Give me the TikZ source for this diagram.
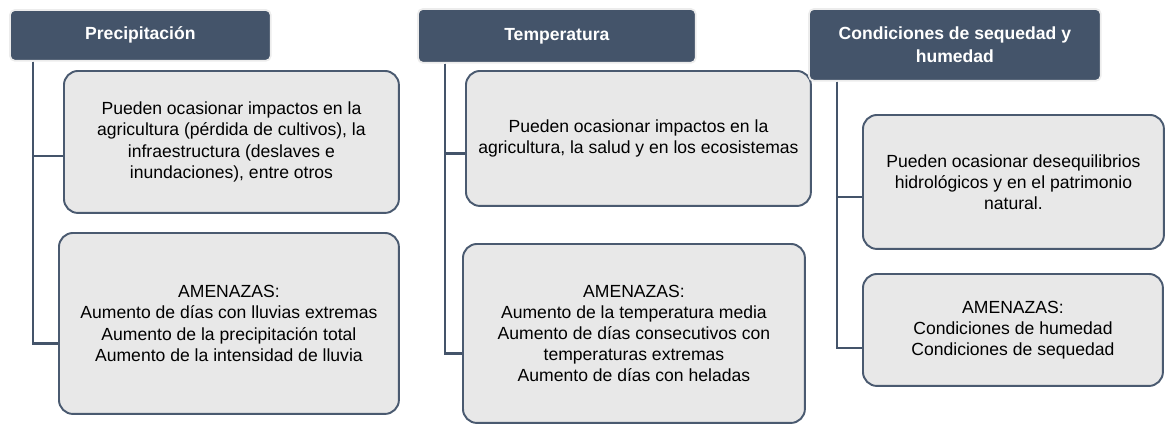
\documentclass[tikz,border=0pt]{standalone}
\usepackage{fontspec}
\setmainfont{Liberation Sans}
\usetikzlibrary{positioning, calc}
\definecolor{hcolor}{HTML}{44546A}
\definecolor{bcolor}{HTML}{E8E8E8}
\definecolor{lcolor}{HTML}{4A5A70}

\begin{document}
\begin{tikzpicture}[
    x=0.02cm, y=0.02cm,
    head/.style={rectangle, draw=gray!15, line width=1pt, fill=hcolor, rounded corners=3pt, anchor=north west, align=center, text=white, font=\fontsize{10}{13}\selectfont\bfseries, inner sep=0pt},
    item/.style={rectangle, draw=lcolor, line width=1.1pt, fill=bcolor, rounded corners=8pt, anchor=north west, align=center, font=\fontsize{10}{12}\selectfont, inner sep=0pt},
    link/.style={draw=hcolor, line width=1.4pt},
  ]
    \useasboundingbox (0,0) rectangle (1165,-423);

    % Precipitacion
    \node[head, minimum width=5.22cm, minimum height=1.02cm] (h1) at (9,-9) {Precipitación};
    \node[item, minimum width=6.70cm, minimum height=2.84cm] (b11) at (63,-70) {Pueden ocasionar impactos en la\\agricultura (pérdida de cultivos), la\\infraestructura (deslaves e\\inundaciones), entre otros};
    \node[item, minimum width=6.80cm, minimum height=3.62cm] (b12) at (58,-232) {AMENAZAS:\\Aumento de días con lluvias extremas\\Aumento de la precipitación total\\Aumento de la intensidad de lluvia};

    % Temperatura
    \node[head, minimum width=5.56cm, minimum height=1.08cm] (h2) at (417,-8) {Temperatura};
    \node[item, minimum width=6.90cm, minimum height=2.70cm] (b21) at (465,-70) {Pueden ocasionar impactos en la\\agricultura, la salud y en los ecosistemas};
    \node[item, minimum width=6.84cm, minimum height=3.58cm] (b22) at (462,-243) {AMENAZAS:\\Aumento de la temperatura media\\Aumento de días consecutivos con\\temperaturas extremas\\Aumento de días con heladas};

    % Sequedad y humedad
    \node[head, minimum width=5.84cm, minimum height=1.44cm] (h3) at (808,-8) {Condiciones de sequedad y\\humedad};
    \node[item, minimum width=6.02cm, minimum height=2.68cm] (b31) at (862,-114) {Pueden ocasionar desequilibrios\\hidrológicos y en el patrimonio\\natural.};
    \node[item, minimum width=6.00cm, minimum height=2.24cm] (b32) at (862,-273) {AMENAZAS:\\Condiciones de humedad\\Condiciones de sequedad};

    \coordinate (t1) at ($(h1.south west)+(24,0)$);
    \coordinate (t2) at ($(h2.south west)+(28,0)$);
    \coordinate (t3) at ($(h3.south west)+(29,0)$);

    \draw[link] (t1) |- ($(b11.west)+(0,-14)$);
    \draw[link] (t1) |- ($(b12.west)+(0,-20)$);
    \draw[link] (t2) |- ($(b21.west)+(0,-15)$);
    \draw[link] (t2) |- ($(b22.west)+(0,-20)$);
    \draw[link] (t3) |- ($(b31.west)+(0,-15)$);
    \draw[link] (t3) |- ($(b32.west)+(0,-18)$);
  \end{tikzpicture}
\end{document}
